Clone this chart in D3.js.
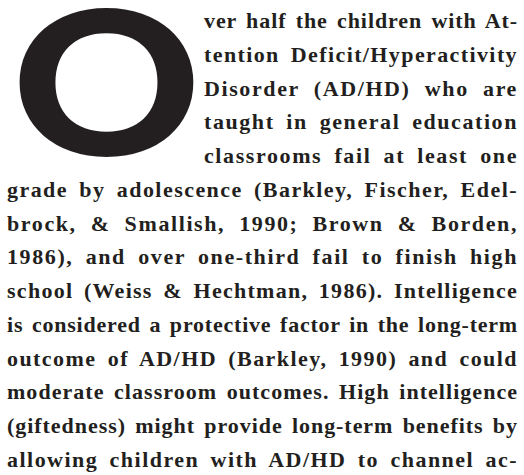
<!DOCTYPE html>
<html>
<head>
<meta charset="utf-8">
<script src="https://cdn.jsdelivr.net/npm/d3@7"></script>
<style>
	html, body { margin: 0; padding: 0; background: #fff; }
	svg { display: block; }
</style>
</head>
<body>
<svg width="524" height="475"></svg>
<script>
// drop cap + paragraph lines, as set in the source page
var dropCap = "O";

var lines = [
	"ver half the children with At-",
	"tention Deficit/Hyperactivity",
	"Disorder (AD/HD) who are",
	"taught in general education",
	"classrooms fail at least one",
	"grade by adolescence (Barkley, Fischer, Edel-",
	"brock, & Smallish, 1990; Brown & Borden,",
	"1986), and over one-third fail to finish high",
	"school (Weiss & Hechtman, 1986). Intelligence",
	"is considered a protective factor in the long-term",
	"outcome of AD/HD (Barkley, 1990) and could",
	"moderate classroom outcomes. High intelligence",
	"(giftedness) might provide long-term benefits by",
	"allowing children with AD/HD to channel ac-"
];

// how many lines sit beside the drop cap
var capLines = 5;

var svg = d3.select("svg"),
	width = +svg.attr("width"),
	height = +svg.attr("height");

var ink = "#231f20";
var serif = "'Liberation Serif', 'Times New Roman', serif";
var fontSize = 22;

var y = d3.scaleLinear()
	.domain([0, lines.length - 1])
	.range([28, 467]);

var right = 518;
var leftFull = 7;
var leftCap = 204;

// --- drop cap, fitted to its ink box (ink found by scanning a canvas)
var capBox = { x0: 20, y0: 8, x1: 193, y1: 157 };
var capFamily = "Lato, 'DejaVu Sans', sans-serif";
var capWeight = "900";
var capPx = 200;

function inkBounds(ch) {
	var c = document.createElement("canvas");
	c.width = capPx * 2;
	c.height = capPx * 2;
	var ctx = c.getContext("2d");
	ctx.font = capWeight + " " + capPx + "px " + capFamily;
	ctx.fillStyle = "#000";
	var ox = capPx / 2, oy = capPx * 1.4;
	ctx.fillText(ch, ox, oy);
	var data = ctx.getImageData(0, 0, c.width, c.height).data;
	var x0 = c.width, x1 = -1, y0 = c.height, y1 = -1;
	for (var yy = 0; yy < c.height; yy++) {
		for (var xx = 0; xx < c.width; xx++) {
			if (data[(yy * c.width + xx) * 4 + 3] > 128) {
				if (xx < x0) x0 = xx;
				if (xx > x1) x1 = xx;
				if (yy < y0) y0 = yy;
				if (yy > y1) y1 = yy;
			}
		}
	}
	return { left: x0 - ox, right: x1 + 1 - ox, top: y0 - oy, bottom: y1 + 1 - oy };
}

var b = inkBounds(dropCap);
var sx = (capBox.x1 - capBox.x0) / (b.right - b.left),
	sy = (capBox.y1 - capBox.y0) / (b.bottom - b.top);

svg.append("text")
	.attr("class", "dropcap")
	.attr("transform", "translate(" + (capBox.x0 - b.left * sx) + "," +
		(capBox.y0 - b.top * sy) + ") scale(" + sx + "," + sy + ")")
	.style("font-family", capFamily)
	.style("font-weight", capWeight)
	.style("font-size", capPx + "px")
	.attr("fill", ink)
	.text(dropCap);

// --- justified lines: spread the slack over letters and (more) over spaces
var text = svg.append("g")
	.attr("class", "para")
	.selectAll("text")
	.data(lines)
	.enter().append("text")
	.attr("x", function(d, i) { return i < capLines ? leftCap : leftFull; })
	.attr("y", function(d, i) { return y(i); })
	.style("font-family", serif)
	.style("font-weight", "bold")
	.style("font-size", fontSize + "px")
	.attr("fill", ink)
	.text(function(d) { return d; });

text.each(function(d, i) {
	var el = d3.select(this);
	var left = i < capLines ? leftCap : leftFull;
	var natural = this.getComputedTextLength();
	var gaps = d.split(" ").length - 1;
	var chars = d.length;
	var extra = right - left - natural;
	var ls = extra / (chars + 3 * gaps);
	ls = Math.max(-0.4, Math.min(1.6, ls));
	var ws = gaps > 0 ? (extra - ls * chars) / gaps : 0;
	el.style("letter-spacing", ls + "px")
		.style("word-spacing", ws + "px");
	var w = this.getComputedTextLength();
	if (Math.abs(w - (right - left)) > 1) {
		el.attr("textLength", right - left).attr("lengthAdjust", "spacingAndGlyphs");
	}
});
</script>
</body>
</html>
